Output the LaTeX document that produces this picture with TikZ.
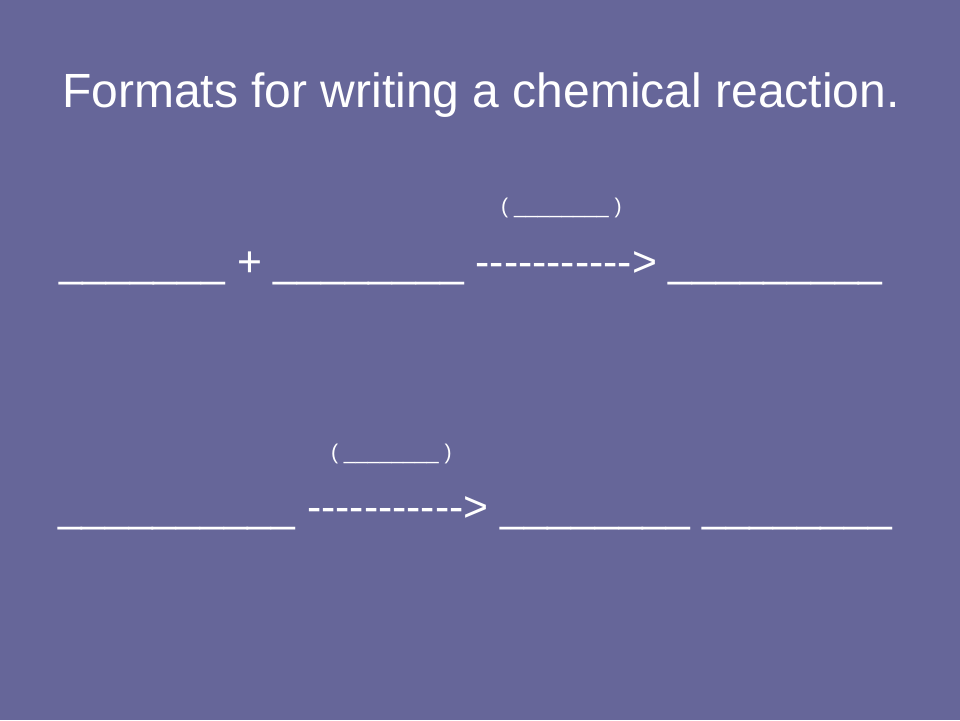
\documentclass[tikz,border=0pt]{standalone}
\usepackage{fontspec}
\newfontfamily\arialf{Liberation Sans}
\definecolor{slidebg}{HTML}{666699}
\tikzset{
  slidetext/.style={inner sep=0pt, outer sep=0pt, text=white, font=\arialf, anchor=base west},
  bigtext/.style={slidetext, font=\arialf\fontsize{42.7}{50}\selectfont},
  smalltext/.style={slidetext, font=\arialf\fontsize{21.3}{25}\selectfont},
  titletext/.style={slidetext, anchor=base, font=\arialf\fontsize{48}{56}\selectfont}
}
\begin{document}
\begin{tikzpicture}[x=1pt,y=-1pt]
\fill[slidebg] (0,0) rectangle (960,720);
\useasboundingbox (0,0) rectangle (960,720);
\node[titletext] (title) at (481,107) {Formats for writing a chemical reaction.};
\node[smalltext] (cond1) at (501,213) {( \_\_\_\_\_\_\_\_ )};
\node[bigtext] (eq1) at (59,276) {\_\_\_\_\_\_\_ + \_\_\_\_\_\_\_\_ -{}-{}-{}-{}-{}-{}-{}-{}-{}-{}-> \_\_\_\_\_\_\_\_\_};
\node[smalltext] (cond2) at (331,459) {( \_\_\_\_\_\_\_\_ )};
\node[bigtext] (eq2) at (58,521) {\_\_\_\_\_\_\_\_\_\_ -{}-{}-{}-{}-{}-{}-{}-{}-{}-{}-> \_\_\_\_\_\_\_\_ \_\_\_\_\_\_\_\_};
\end{tikzpicture}
\end{document}
